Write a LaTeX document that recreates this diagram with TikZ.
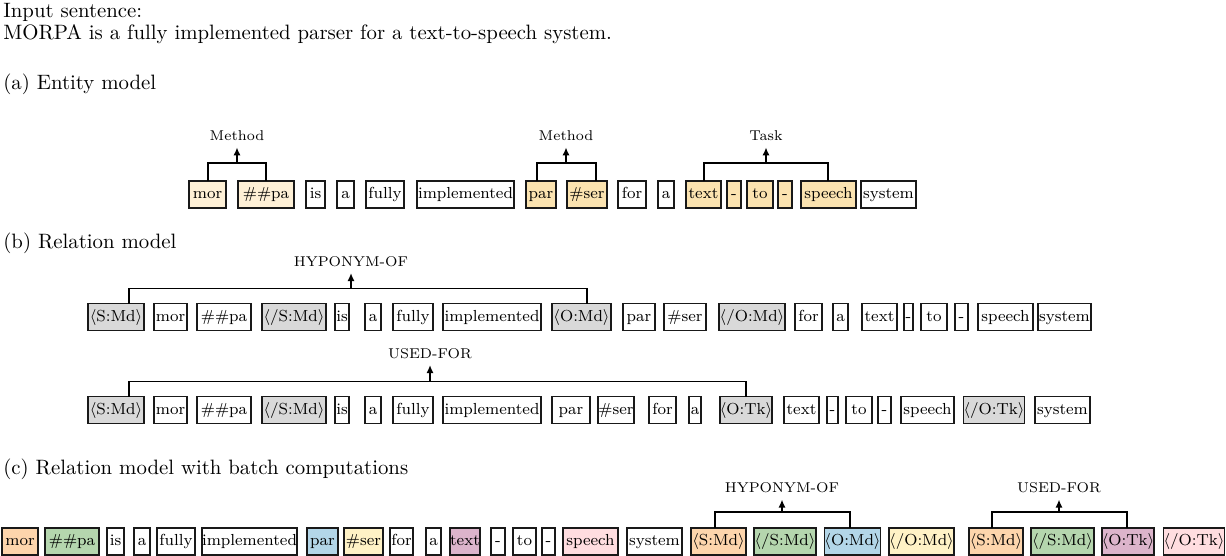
\documentclass[tikz,border=0pt]{standalone}
\usetikzlibrary{arrows.meta,calc}
\definecolor{cLight}{RGB}{254,240,214}
\definecolor{cCream}{RGB}{251,227,176}
\definecolor{cGray}{RGB}{217,217,217}
\definecolor{cPeach}{RGB}{253,213,172}
\definecolor{cGreen}{RGB}{181,214,174}
\definecolor{cBlue}{RGB}{179,214,232}
\definecolor{cYellow}{RGB}{255,242,198}
\definecolor{cMauve}{RGB}{220,180,203}
\definecolor{cPink}{RGB}{255,221,224}
\tikzset{
  tokbox/.style={draw=black!90, line width=0.9pt, inner sep=0pt, outer sep=0pt,
    minimum height=13.5pt, font=\fontsize{8}{9.5}\selectfont,
    text height=5.6pt, text depth=1.6pt},
  bracket/.style={line width=0.85pt},
  relarrow/.style={line width=0.85pt, -{Latex[length=4pt,width=3.6pt]}},
  rellabel/.style={font=\fontsize{7.1}{8.5}\selectfont, inner xsep=1pt, inner ysep=3pt},
  sectitle/.style={font=\fontsize{10.4}{13}\selectfont, anchor=base west, inner sep=0pt},
}
\newcommand\tok[6]{\node[tokbox, fill=#5, minimum width={0.5pt*(#3-#2)}] (#1) at ({(#2+#3)/2},#4) {#6};}
% #1 name, #2 left node, #3 left leg x, #4 right node, #5 right leg x, #6 arrow x,
% #7 label, #8 bracket height (px), #9 label height above box top (px)
\newcommand\rel[9]{%
  \coordinate (#1l) at (#3,0 |- #2.north);
  \coordinate (#1r) at (#5,0 |- #4.north);
  \coordinate (#1b) at ([yshift={0.5pt*#8}]#6,0 |- #2.north);
  \node[rellabel] (#1t) at ([yshift={0.5pt*#9}]#6,0 |- #2.north) {#7};
  \draw[bracket] (#1l) -- ++(0,-#8) -| (#1r);
  \draw[relarrow] (#1b) -- (#1t.south);
}
\newcommand\la{$\langle$}
\newcommand\ra{$\rangle$}
\begin{document}
\begin{tikzpicture}[x=0.5pt,y=-0.5pt]
\useasboundingbox (0,0) rectangle (1226,556);
% section titles
\node[sectitle] (t0) at (3,17.5) {Input sentence:};
\node[sectitle] (t1) at (3,39.5) {MORPA is a fully implemented parser for a text-to-speech system.};
\node[sectitle] (ta) at (3,90) {(a) Entity model};
\node[sectitle] (tb) at (3,248) {(b) Relation model};
\node[sectitle] (tc) at (3,474) {(c) Relation model with batch computations};
% (a) entity row
\def\ya{194.5}
\tok{a1}{189}{226}{\ya}{cLight}{mor}
\tok{a2}{238}{294}{\ya}{cLight}{\#\#pa}
\tok{a3}{306}{325}{\ya}{white}{is}
\tok{a4}{337}{354}{\ya}{white}{a}
\tok{a5}{366}{404}{\ya}{white}{fully}
\tok{a6}{417}{514}{\ya}{white}{implemented}
\tok{a7}{526}{556}{\ya}{cCream}{par}
\tok{a8}{567}{607}{\ya}{cCream}{\#ser}
\tok{a9}{618}{646}{\ya}{white}{for}
\tok{a10}{658}{674}{\ya}{white}{a}
\tok{a11}{686}{721}{\ya}{cCream}{text}
\tok{a12}{727}{741}{\ya}{cCream}{-}
\tok{a13}{747}{773}{\ya}{cCream}{to}
\tok{a14}{778}{792}{\ya}{cCream}{-}
\tok{a15}{801}{856}{\ya}{cCream}{speech}
\tok{a16}{861}{916}{\ya}{white}{system}
\rel{ra1}{a1}{208}{a2}{266}{237}{Method}{18}{45}
\rel{ra2}{a7}{537}{a8}{596}{566}{Method}{18}{45}
\rel{ra3}{a11}{704}{a15}{828}{766}{Task}{18}{45}
% (b) relation row 1
\def\yb{317}
\tok{b1}{88}{144}{\yb}{cGray}{\la S:Md\ra}
\tok{b2}{154}{187}{\yb}{white}{mor}
\tok{b3}{197}{251}{\yb}{white}{\#\#pa}
\tok{b4}{262}{326}{\yb}{cGray}{\la/S:Md\ra}
\tok{b5}{335}{349}{\yb}{white}{is}
\tok{b6}{365}{381}{\yb}{white}{a}
\tok{b7}{393}{433}{\yb}{white}{fully}
\tok{b8}{443}{541}{\yb}{white}{implemented}
\tok{b9}{552}{611}{\yb}{cGray}{\la O:Md\ra}
\tok{b10}{623}{655}{\yb}{white}{par}
\tok{b11}{664}{706}{\yb}{white}{\#ser}
\tok{b12}{719}{785}{\yb}{cGray}{\la/O:Md\ra}
\tok{b13}{795}{822}{\yb}{white}{for}
\tok{b14}{833}{848}{\yb}{white}{a}
\tok{b15}{862}{897}{\yb}{white}{text}
\tok{b16}{904}{913}{\yb}{white}{-}
\tok{b17}{921}{947}{\yb}{white}{to}
\tok{b18}{955}{968}{\yb}{white}{-}
\tok{b19}{978}{1033}{\yb}{white}{speech}
\tok{b20}{1038}{1091}{\yb}{white}{system}
\rel{rb1}{b1}{129}{b9}{587}{351}{HYPONYM-OF}{15}{42}
% (b) relation row 2
\def\yc{410}
\tok{c1}{88}{144}{\yc}{cGray}{\la S:Md\ra}
\tok{c2}{154}{187}{\yc}{white}{mor}
\tok{c3}{197}{251}{\yc}{white}{\#\#pa}
\tok{c4}{262}{326}{\yc}{cGray}{\la/S:Md\ra}
\tok{c5}{335}{349}{\yc}{white}{is}
\tok{c6}{365}{381}{\yc}{white}{a}
\tok{c7}{393}{433}{\yc}{white}{fully}
\tok{c8}{443}{541}{\yc}{white}{implemented}
\tok{c9}{552}{590}{\yc}{white}{par}
\tok{c10}{598}{634}{\yc}{white}{\#ser}
\tok{c11}{649}{676}{\yc}{white}{for}
\tok{c12}{689}{701}{\yc}{white}{a}
\tok{c13}{720}{772}{\yc}{cGray}{\la O:Tk\ra}
\tok{c14}{784}{819}{\yc}{white}{text}
\tok{c15}{827}{838}{\yc}{white}{-}
\tok{c16}{846}{872}{\yc}{white}{to}
\tok{c17}{878}{891}{\yc}{white}{-}
\tok{c18}{901}{954}{\yc}{white}{speech}
\tok{c19}{964}{1024}{\yc}{cGray}{\la/O:Tk\ra}
\tok{c20}{1035}{1090}{\yc}{white}{system}
\rel{rc1}{c1}{129}{c13}{746}{430}{USED-FOR}{15}{43}
% (c) batch row
\def\yd{541.5}
\tok{d1}{2}{38}{\yd}{cPeach}{mor}
\tok{d2}{45}{99}{\yd}{cGreen}{\#\#pa}
\tok{d3}{107}{124}{\yd}{white}{is}
\tok{d4}{134}{150}{\yd}{white}{a}
\tok{d5}{157}{195}{\yd}{white}{fully}
\tok{d6}{202}{297}{\yd}{white}{implemented}
\tok{d7}{307}{338}{\yd}{cBlue}{par}
\tok{d8}{344}{383}{\yd}{cYellow}{\#ser}
\tok{d9}{390}{413}{\yd}{white}{for}
\tok{d10}{426}{441}{\yd}{white}{a}
\tok{d11}{451}{479}{\yd}{cMauve}{text}
\tok{d12}{491}{505}{\yd}{white}{-}
\tok{d13}{513}{536}{\yd}{white}{to}
\tok{d14}{542}{555}{\yd}{white}{-}
\tok{d15}{563}{618}{\yd}{cPink}{speech}
\tok{d16}{627}{682}{\yd}{white}{system}
\tok{d17}{691}{746}{\yd}{cPeach}{\la S:Md\ra}
\tok{d18}{754}{816}{\yd}{cGreen}{\la/S:Md\ra}
\tok{d19}{825}{880}{\yd}{cBlue}{\la O:Md\ra}
\tok{d20}{889}{954}{\yd}{cYellow}{\la/O:Md\ra}
\tok{d21}{969}{1023}{\yd}{cPeach}{\la S:Md\ra}
\tok{d22}{1031}{1094}{\yd}{cGreen}{\la/S:Md\ra}
\tok{d23}{1103}{1153}{\yd}{cMauve}{\la O:Tk\ra}
\tok{d24}{1165}{1223}{\yd}{cPink}{\la/O:Tk\ra}
\rel{rd1}{d17}{715}{d19}{850}{782}{HYPONYM-OF}{16}{40}
\rel{rd2}{d21}{992}{d23}{1127}{1059}{USED-FOR}{16}{40}
\end{tikzpicture}
\end{document}
